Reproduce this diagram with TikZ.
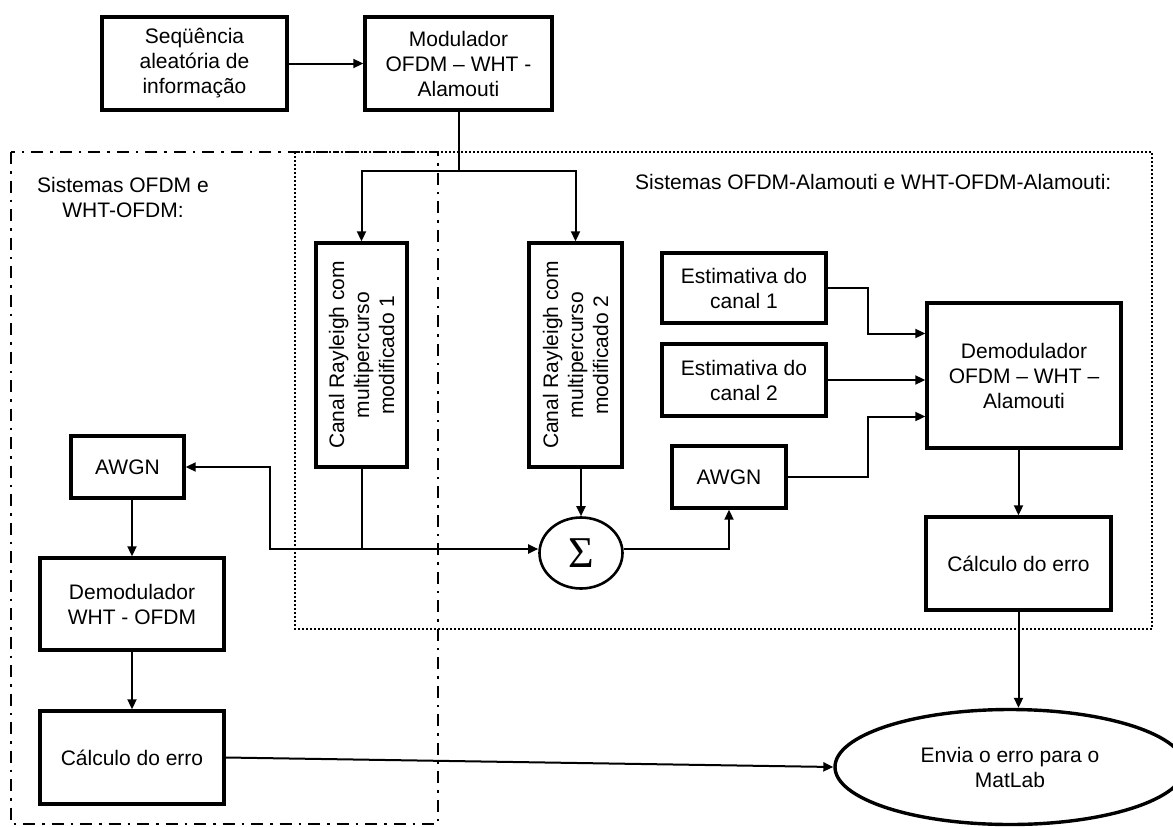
\documentclass[tikz,border=0pt]{standalone}
\usepackage{fontspec}
\setmainfont{Liberation Sans}
\newfontfamily\sigmafont{Liberation Serif}
\usepackage{tikz}
\usetikzlibrary{shapes.geometric, positioning, calc, arrows.meta}

\tikzset{
  blk/.style={draw, line width=3.4pt, align=center, inner sep=0pt,
              font=\fontsize{21}{25}\selectfont},
  lbl/.style={align=center, inner sep=0pt, font=\fontsize{21}{25}\selectfont},
  wire/.style={line width=2pt},
  arr/.style={wire, -{Triangle[length=10pt, width=9pt]}},
  dashdot/.style={line width=2.4pt, dash pattern=on 12pt off 7pt on 2.5pt off 7pt},
  dotline/.style={line width=2pt, dash pattern=on 2pt off 2pt},
}

\begin{document}
\begin{tikzpicture}[x=1pt, y=-1pt]
    \useasboundingbox[fill=white] (0,0) rectangle (1173,827);

    % Region of the OFDM and WHT-OFDM systems (dash-dot)
    \draw[dashdot] (11,152) rectangle (438,824);

    % Region of the Alamouti systems (dotted)
    \draw[dotline] (295,152) rectangle (1152,629);

    % Region titles
    \node[lbl] (titleL) at (123,197) {Sistemas OFDM e\\WHT-OFDM:};
    \node[lbl, anchor=west] (titleR) at (635,182) {Sistemas OFDM-Alamouti e WHT-OFDM-Alamouti:};

    % Source and modulator
    \node[blk, minimum width=185, minimum height=93] (seq) at (194.5,63.5)
        {Seqüência\\aleatória de\\informação};
    \node[blk, minimum width=187, minimum height=93] (mod) at (458.5,63.5)
        {Modulador\\OFDM -- WHT -\\Alamouti};

    % Rayleigh channels (text turned upright)
    \node[blk, rotate=90, minimum width=224, minimum height=91] (canal1) at (361.5,355)
        {Canal Rayleigh com\\multipercurso\\modificado 1};
    \node[blk, rotate=90, minimum width=224, minimum height=93] (canal2) at (575.5,355)
        {Canal Rayleigh com\\multipercurso\\modificado 2};

    % Channel estimates and Alamouti demodulator
    \node[blk, minimum width=164, minimum height=70] (est1) at (744,288) {Estimativa do\\canal 1};
    \node[blk, minimum width=164, minimum height=72] (est2) at (744,380) {Estimativa do\\canal 2};
    \node[blk, minimum width=194, minimum height=145] (demodR) at (1024,375.5)
        {Demodulador\\OFDM -- WHT --\\Alamouti};

    % Sum and noise of the Alamouti branch
    \node[draw, ellipse, line width=2.6pt, minimum width=83, minimum height=71, inner sep=0pt]
        (sigma) at (581,553) {\sigmafont\fontsize{44}{44}\selectfont Σ};
    \node[blk, minimum width=114, minimum height=62] (awgnR) at (729,477) {AWGN};
    \node[blk, minimum width=185, minimum height=93] (calcR) at (1018.5,563.5) {Cálculo do erro};

    % Single antenna branch
    \node[blk, minimum width=113, minimum height=62] (awgnL) at (127.5,467) {AWGN};
    \node[blk, minimum width=184, minimum height=92] (demodL) at (132,604) {Demodulador\\WHT - OFDM};
    \node[blk, minimum width=184, minimum height=93] (calcL) at (132,757.5) {Cálculo do erro};

    % Output to MatLab
    \node[draw, ellipse, line width=3.4pt, minimum width=350, minimum height=115, inner sep=0pt,
          lbl] (env) at (1010,767) {Envia o erro para o\\MatLab};

    % Source to modulator
    \draw[arr] (seq) -- (mod);

    % Modulator splits to both channels
    \coordinate (split) at (458.5,171);
    \draw[wire] (mod.south) -- (split);
    \draw[arr] (split) -| (canal1.east);
    \draw[arr] (split) -| (canal2.east);

    % Channel 1 goes to the sum and to the left AWGN
    \draw[wire] (canal1.west) -- (canal1.west |- 0,549) coordinate (tap);
    \draw[arr] (tap) -- (tap -| sigma.west);
    \draw[arr] (tap) -- ++(-92,0) |- (awgnL.east);

    % Channel 2 to the sum, sum to AWGN
    \draw[arr] (sigma.north |- canal2.west) -- (sigma.north);
    \draw[arr] (sigma.east |- tap) -| (awgnR.south);

    % Inputs of the Alamouti demodulator
    \draw[arr] (est1.east) -- ++(40,0) |- ([yshift=42pt]demodR.west);
    \draw[arr] (est2.east) -- (est2.east -| demodR.west);
    \draw[arr] (awgnR.east) -- ++(80,0) |- ([yshift=-41pt]demodR.west);

    % Alamouti demodulator to error and MatLab
    \draw[arr] (calcR.north |- demodR.south) -- (calcR.north);
    \draw[arr] (calcR.south) -- (calcR.south |- env.north);

    % Left column
    \draw[arr] (demodL.north |- awgnL.south) -- (demodL.north);
    \draw[arr] (demodL.south) -- (calcL.north);
    \draw[arr] (calcL.east) -- (env.west);

\end{tikzpicture}
\end{document}
